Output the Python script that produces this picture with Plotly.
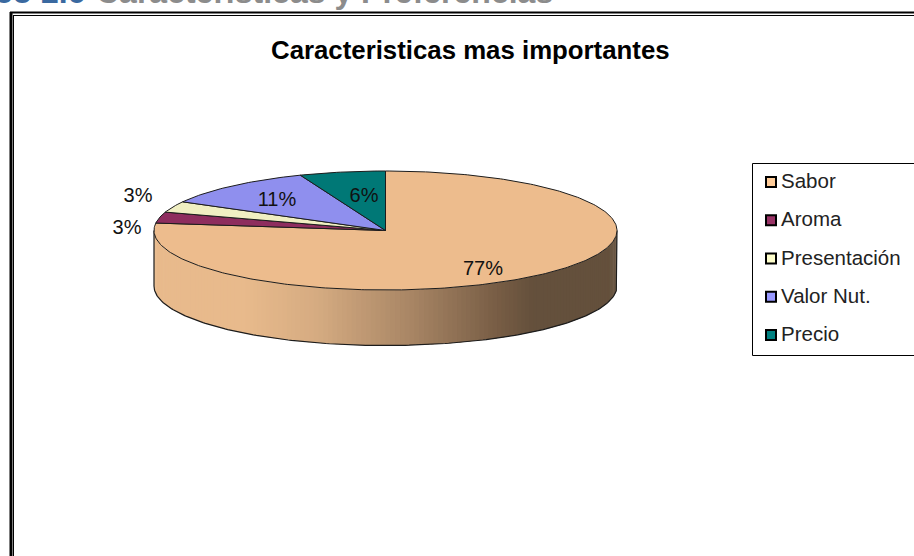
import numpy as np
import plotly.graph_objects as go

# ---- data ----
categories = ["Sabor", "Aroma", "Presentación", "Valor Nut.", "Precio"]
values = [77, 3, 3, 11, 6]
title_text = "Caracteristicas mas importantes"
header_blue = "Gráfico 2.6"
header_gray = "Caracteristicas y Preferencias"

# ---- style ----
top_colors = ["#EDBC8D", "#8E2D5E", "#F0EFC2", "#8F8FEE", "#007876"]
key_colors = ["#FFCC99", "#993366", "#FFFFCC", "#9999FF", "#008080"]
CX, CY, RX, RY, DEPTH = 385.5, 230.5, 231.5, 59.5, 55.5
FONT = "Liberation Sans"
EDGE = "#1c1c1c"
# pixel offsets of the percent labels from the pie centre
label_off = [(97.5, 39.5), (-258.5, -1.5), (-247.5, -33.5), (-108.5, -29.5), (-21.5, -33.5)]
# side shading: x fraction across the pie -> colour
shade_x = [0.0, 0.2, 0.35, 0.55, 0.75, 0.82, 1.0]
shade_rgb = [(232, 186, 140), (232, 186, 140), (214, 172, 130), (170, 135, 102),
             (118, 92, 68), (100, 80, 60), (100, 80, 60)]

fig = go.Figure()


def px(theta):
    return CX + RX * np.sin(theta)


def py(theta):
    return CY - RY * np.cos(theta)


# side wall, drawn as narrow shaded strips along the front half
n = 150
edges = np.linspace(np.pi / 2, 3 * np.pi / 2, n + 1)
for a, b in zip(edges[:-1], edges[1:]):
    t = np.linspace(a, b + 0.012, 4)
    xs = np.r_[px(t), px(t[::-1])]
    ys = np.r_[py(t), py(t[::-1]) + DEPTH]
    f = (px((a + b) / 2) - (CX - RX)) / (2 * RX)
    col = [np.interp(f, shade_x, [c[i] for c in shade_rgb]) for i in range(3)]
    fig.add_trace(go.Scatter(x=xs, y=ys, mode="lines", fill="toself", line=dict(width=0),
                             fillcolor="rgb(%d,%d,%d)" % tuple(col), hoverinfo="skip", showlegend=False))

# outline of the wall
t = np.linspace(np.pi / 2, 3 * np.pi / 2, 200)
fig.add_trace(go.Scatter(x=np.r_[px(t[0]), px(t), px(t[-1])],
                         y=np.r_[py(t[0]), py(t) + DEPTH, py(t[-1])],
                         mode="lines", line=dict(color=EDGE, width=1.2), hoverinfo="skip", showlegend=False))

# top face, one wedge per value, clockwise from twelve o'clock
cum = np.cumsum([0] + values) / sum(values) * 2 * np.pi
for i, name in enumerate(categories):
    t = np.linspace(cum[i], cum[i + 1], max(int(values[i] * 4), 8))
    fig.add_trace(go.Scatter(x=np.r_[CX, px(t), CX], y=np.r_[CY, py(t), CY], mode="lines", fill="toself",
                             fillcolor=top_colors[i], line=dict(color=EDGE, width=1),
                             name=name, showlegend=False, hovertemplate=name + ": %d%%<extra></extra>" % values[i]))

# percent labels
fig.add_trace(go.Scatter(x=[CX + o[0] for o in label_off], y=[CY + o[1] for o in label_off],
                         mode="text", text=["%d%%" % v for v in values],
                         textfont=dict(family=FONT, size=20, color="#111111"),
                         textposition="middle center", hoverinfo="skip", showlegend=False))

# legend keys and names
key_y = [182 + 38.25 * i for i in range(len(categories))]
fig.add_trace(go.Scatter(x=[771] * len(categories), y=key_y, mode="markers",
                         marker=dict(symbol="square", size=10, color=key_colors,
                                     line=dict(color="black", width=2)),
                         hoverinfo="skip", showlegend=False))
fig.add_trace(go.Scatter(x=[781] * len(categories), y=[k + 1 for k in key_y], mode="text", text=categories,
                         textposition="middle right",
                         textfont=dict(family=FONT, size=20.5, color="#222222"),
                         hoverinfo="skip", showlegend=False))

shapes = [
    # double frame
    dict(type="line", x0=11, x1=11, y0=12, y1=560, line=dict(color="black", width=3)),
    dict(type="line", x0=13.5, x1=13.5, y0=15, y1=560, line=dict(color="black", width=1)),
    dict(type="line", x0=10, x1=920, y0=12.5, y1=12.5, line=dict(color="black", width=2)),
    dict(type="line", x0=13, x1=920, y0=15.5, y1=15.5, line=dict(color="black", width=1)),
    # legend box
    dict(type="rect", x0=752.5, x1=930, y0=163.5, y1=355.5, line=dict(color="black", width=1)),
]

fig.update_layout(
    width=914, height=556, margin=dict(l=0, r=0, t=0, b=0), autosize=False,
    paper_bgcolor="white", plot_bgcolor="white", showlegend=False, shapes=shapes,
    xaxis=dict(range=[0, 914], visible=False, fixedrange=True),
    yaxis=dict(range=[556, 0], visible=False, fixedrange=True),
    annotations=[
        dict(text="<b>" + title_text + "</b>", x=470.5 / 914, y=1 - 50 / 556, xref="paper", yref="paper",
             showarrow=False, xanchor="center", yanchor="middle",
             font=dict(family=FONT, size=25.8, color="black")),
        dict(text="<b>" + header_blue + "</b>", x=87 / 914, y=1 + 8 / 556, xref="paper", yref="paper",
             showarrow=False, xanchor="right", yanchor="middle",
             font=dict(family=FONT, size=32, color="#3A69A0")),
        dict(text="<b>" + header_gray + "</b>", x=94 / 914, y=1 + 8 / 556, xref="paper", yref="paper",
             showarrow=False, xanchor="left", yanchor="middle",
             font=dict(family=FONT, size=32, color="#8C8C8C")),
    ],
)
fig.write_html("out.html", config=dict(displayModeBar=False),
               post_script="document.body.style.margin='0';document.body.style.overflow='hidden';")
